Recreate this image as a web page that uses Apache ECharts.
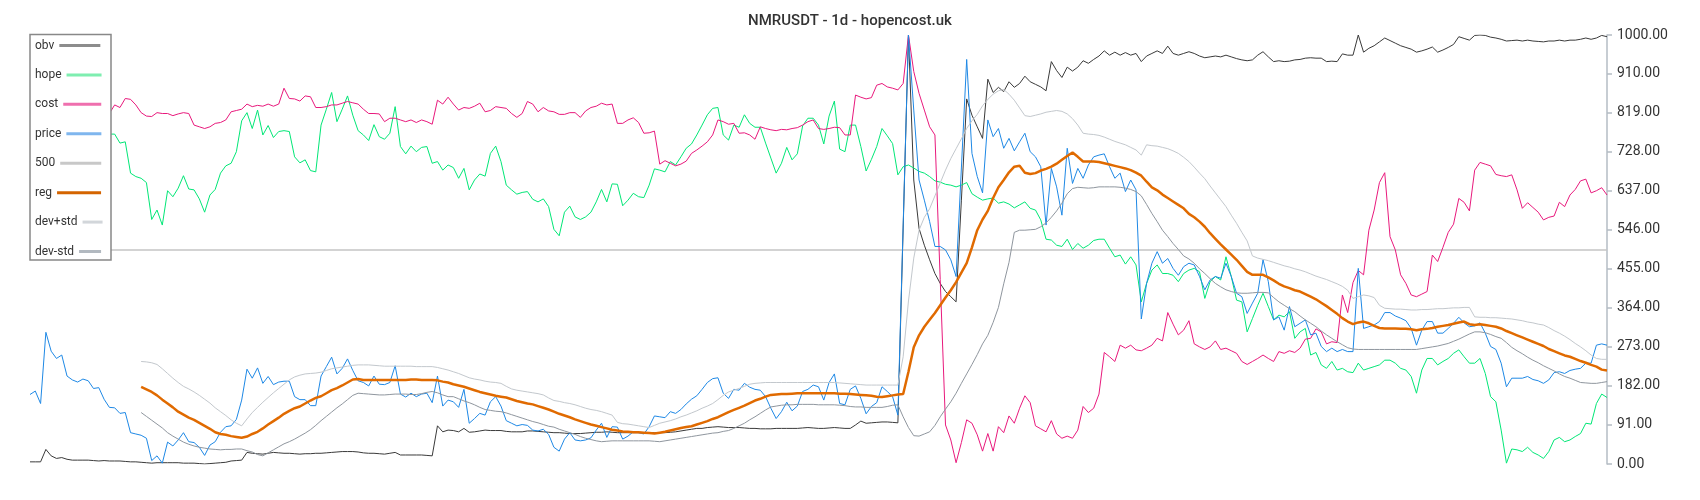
<!DOCTYPE html>
<html>
<head>
<meta charset="utf-8">
<script src="https://cdn.jsdelivr.net/npm/echarts@6/dist/echarts.min.js"></script>
<style>html,body{margin:0;padding:0;background:#fff}#chart{width:1700px;height:500px}</style>
</head>
<body>
<div id="chart"></div>
<script>
const title = 'NMRUSDT - 1d - hopencost.uk';
const seriesNames = ['obv', 'hope', 'cost', 'price', '500', 'reg', 'dev+std', 'dev-std'];
const yTicks = { min: 0, max: 1000, interval: 91 };
const level500 = 500;

const price = [162,170,141,307,263,246,254,205,196,191,198,194,176,178,151,132,131,118,120,73,70,67,60,8,19,2,51,42,56,73,52,50,39,20,44,52,74,87,89,104,149,221,200,224,188,204,185,191,193,193,157,150,150,136,136,205,227,249,210,223,245,218,194,190,182,205,186,185,190,229,163,156,165,157,163,165,143,205,135,149,
145,132,174,95,106,118,114,145,157,135,101,95,89,92,90,79,77,81,69,39,30,58,73,56,54,56,61,79,95,62,87,86,58,65,75,73,70,87,112,110,108,122,118,127,140,151,159,174,190,199,201,165,153,174,172,188,179,174,172,157,130,106,122,144,124,135,169,174,184,180,149,190,210,141,138,174,182,153,117,134,
143,180,169,157,114,557,1000,
825,662,615,565,507,507,499,476,437,690,943,
724,670,632,802,763,782,736,759,730,751,771,728,716,693,557,689,646,580,736,654,689,666,697,716,720,723,693,666,678,635,662,639,
338,421,468,495,468,479,456,440,460,468,464,437,406,429,437,433,468,437,398,390,351,375,398,476,425,336,343,312,367,320,328,
336,301,305,274,262,270,262,267,262,262,456,316,320,324,332,353,353,345,340,334,316,277,312,332,332,305,305,316,328,342,329,320,322,329,305,274,267,235,180,200,200,200,204,197,194,188,196,213,215,211,218,221,223,235,235,277,280,277];

const obv = [5,5,5,34,19,13,15,11,9,9,9,9,8,7,8,7,7,7,6,5,5,4,3,2,3,3,3,3,3,2,2,2,1,0,1,2,3,4,7,8,9,27,25,24,23,25,27,26,25,25,24,23,24,24,25,25,26,27,28,29,29,29,28,26,25,25,24,23,25,27,21,21,21,21,21,20,19,89,75,79,
78,75,83,74,75,77,79,78,78,78,76,75,75,75,77,77,76,75,74,73,73,72,71,71,71,72,73,74,74,75,74,73,73,73,73,73,73,73,73,73,73,74,75,77,79,81,83,83,85,86,87,86,85,85,85,84,83,83,82,82,82,83,83,83,83,83,84,85,84,83,83,84,85,84,83,83,91,100,95,96,
97,98,98,97,96,550,1000,
662,549,510,476,444,421,402,390,378,615,851,
813,786,759,897,866,878,868,891,878,887,904,891,885,879,870,938,917,901,925,916,925,940,934,943,951,963,953,960,953,959,953,957,
938,951,957,963,957,974,957,953,957,961,957,951,947,949,951,949,953,949,945,942,940,942,953,961,949,938,940,938,939,942,943,
946,947,946,946,938,939,938,956,953,953,1000,960,969,975,984,993,987,981,975,971,967,960,963,967,972,960,965,971,978,996,992,988,999,1000,999,995,993,990,986,987,988,986,988,986,985,984,986,986,988,986,988,988,990,993,990,993,999,996];

const hope = [800,805,785,890,860,850,855,820,815,810,815,812,800,800,780,
769,769,748,751,678,670,666,656,570,592,557,637,623,643,672,641,639,618,587,627,640,678,695,701,728,800,819,782,825,767,789,761,775,777,775,716,702,709,684,681,790,827,866,798,827,858,813,777,767,754,791,763,757,771,833,740,723,741,728,
738,740,701,705,685,697,691,666,689,639,662,676,671,724,741,705,650,639,629,633,635,617,611,618,600,547,532,587,601,576,570,576,587,611,640,611,653,652,602,615,631,623,621,650,688,685,681,705,697,716,736,746,767,790,814,829,831,767,755,790,785,814,794,785,785,748,713,678,701,738,709,723,788,806,806,790,746,811,846,734,728,790,790,740,683,710,
740,782,765,747,674,693,697,
690,682,678,670,660,657,652,650,646,650,656,630,622,615,618,620,608,611,606,597,604,611,596,592,569,524,522,510,507,524,500,514,503,510,521,524,524,503,483,487,466,483,464,
378,421,452,464,444,444,440,425,444,452,456,448,386,425,437,429,483,437,382,378,308,339,370,398,367,336,347,343,355,293,308,
316,254,260,231,223,239,219,223,215,213,235,219,223,227,231,242,242,235,223,219,204,165,219,246,246,231,239,246,258,266,250,235,235,246,211,157,145,79,2,35,33,29,39,27,21,13,29,56,62,52,56,64,71,95,93,141,163,155];

const cost = [820,825,830,835,840,838,835,832,830,828,825,822,820,818,818,
817,837,831,852,850,837,819,811,810,819,817,817,812,816,819,817,790,786,782,786,794,796,802,821,824,827,839,833,836,834,839,834,839,876,852,851,846,858,856,831,831,833,837,837,841,845,842,839,827,817,817,816,798,806,806,802,798,802,796,
802,798,792,848,839,855,839,825,831,829,834,841,821,824,833,831,829,817,808,817,845,839,821,831,823,821,815,815,819,819,808,823,831,834,841,837,839,794,794,802,807,796,771,772,776,699,707,701,695,699,706,724,732,741,751,767,802,798,792,794,771,772,767,757,786,782,779,777,780,779,782,784,790,798,802,782,780,782,785,784,767,767,860,855,851,854,
883,887,879,876,872,887,1000,
915,864,825,786,767,430,91,56,3,50,103,
95,68,30,71,30,87,73,112,95,130,159,143,89,82,75,101,70,60,65,60,79,134,120,130,163,260,250,239,277,270,277,266,
264,270,277,293,287,353,326,301,312,334,280,273,267,273,287,267,270,264,258,239,232,239,246,254,246,239,262,258,264,260,270,
291,293,315,308,280,285,283,394,353,423,451,441,545,592,656,679,530,499,441,421,394,390,396,402,487,472,505,540,559,619,610,590,685,703,699,695,675,672,670,674,639,596,609,598,587,569,575,578,610,600,627,640,660,664,632,637,644,627];

const reg = [null,null,null,null,null,null,null,null,null,null,null,null,null,null,null,null,null,null,null,null,null,
180,174,168,160,150,141,132,122,115,108,103,96,89,82,74,70,68,65,63,61,64,70,75,83,92,100,108,117,124,130,134,141,148,154,158,165,172,177,183,190,197,198,196,196,196,196,196,196,196,196,196,197,197,196,196,196,195,192,190,
186,183,180,176,172,168,165,162,159,157,155,151,147,144,141,139,135,131,127,122,117,113,109,104,100,96,92,89,86,83,80,78,76,75,74,74,73,72,71,73,75,78,81,84,86,88,92,96,100,105,109,115,121,126,131,136,142,148,152,157,161,162,163,163,164,165,165,165,165,165,165,165,165,164,164,163,162,161,160,159,
157,156,158,160,162,
163,215,272,300,320,336,352,370,388,405,424,446,468,505,545,570,590,620,645,662,680,693,695,679,676,678,684,688,693,700,709,718,726,716,705,705,705,704,701,698,695,692,689,685,679,672,658,645,638,628,620,612,604,596,583,575,565,553,538,525,512,500,488,476,462,448,441,441,441,435,428,420,414,410,405,402,396,390,384,376,368,359,350,340,332,326,330,332,328,322,317,316,316,316,315,315,314,312,314,315,317,320,322,324,327,330,332,326,324,326,324,322,320,316,310,305,300,295,290,285,280,275,268,263,258,253,250,245,240,236,231,227,220,218];

const devPlus = [null,null,null,null,null,null,null,null,null,null,null,null,null,null,null,null,null,null,null,null,null,
239,238,236,232,222,211,200,190,181,175,168,160,151,142,131,122,113,103,95,89,105,120,132,144,155,166,176,186,196,203,207,210,211,212,214,218,222,224,226,228,230,231,231,231,230,229,228,228,228,228,228,228,227,227,227,227,225,222,219,
215,211,206,201,198,196,193,191,190,188,181,175,172,170,168,166,164,161,154,148,146,143,141,138,134,130,127,125,122,118,114,97,94,93,91,89,87,85,90,95,98,101,105,110,114,119,124,130,135,141,150,160,168,172,176,181,186,188,189,190,190,190,190,190,190,190,190,190,190,190,190,190,190,189,188,187,186,185,184,184,
184,184,184,184,184,
250,380,480,545,575,595,625,655,685,712,735,758,782,800,815,835,850,862,870,873,862,848,830,812,
810,813,816,820,822,824,822,816,805,790,771,769,768,766,762,757,752,748,744,738,732,720,744,742,741,738,735,730,724,715,705,692,678,665,648,632,616,600,580,561,540,520,485,480,477,474,470,466,462,459,455,452,448,443,438,434,430,425,420,414,405,386,390,394,392,388,370,363,362,361,361,360,359,359,360,360,361,362,362,363,364,364,365,365,343,342,342,341,341,340,339,338,336,334,331,329,326,324,318,311,305,298,290,281,273,264,254,246,244,244];

const devMinus = [null,null,null,null,null,null,null,null,null,null,null,null,null,null,null,null,null,null,null,null,null,
120,111,102,93,84,73,65,58,51,46,42,39,37,35,34,33,34,34,35,35,31,28,22,19,26,33,40,47,52,58,65,72,80,90,101,111,121,131,140,150,160,165,164,163,162,161,161,162,163,163,163,162,162,164,167,169,166,161,157,
157,152,147,143,138,132,127,125,123,122,119,115,111,107,103,99,96,92,88,86,81,77,73,69,64,60,57,54,52,53,54,54,54,54,54,54,54,54,53,52,54,56,58,60,62,64,66,68,70,72,73,76,78,83,89,95,103,110,118,126,133,135,137,138,138,139,139,139,139,138,138,138,138,137,136,134,133,133,132,132,
132,132,134,137,138,110,85,66,65,70,75,90,110,128,145,165,188,210,232,255,280,300,330,365,420,470,540,545,545,546,547,553,562,575,590,608,630,642,645,644,643,644,646,646,646,646,645,643,640,635,625,605,584,565,545,530,514,500,485,478,468,455,444,432,421,413,406,402,399,398,398,399,400,400,399,388,378,370,362,355,345,336,328,320,310,301,293,285,278,271,268,267,267,267,267,267,267,267,267,267,267,267,267,269,271,273,275,278,281,286,291,297,303,308,308,306,302,297,293,283,272,264,257,249,242,236,229,223,217,210,204,200,195,190,189,188,188,190,192];

const categories = Array.from({ length: price.length }, (_, i) => String(i + 1));

const colors = {
  'obv': '#3a3a3a', 'hope': '#00e676', 'cost': '#e8197c', 'price': '#1e88e5',
  '500': '#c4c4c4', 'reg': '#e06a00', 'dev+std': '#c3c8cd', 'dev-std': '#8f969e'
};
const legendIconColors = {
  'obv': '#8c8c8c', 'hope': '#7eeeb0', 'cost': '#ef6fae', 'price': '#7fb6ee',
  '500': '#c8c8c8', 'reg': '#d46400', 'dev+std': '#d2d6da', 'dev-std': '#b2b9c0'
};
const widths = { 'obv': 1, 'hope': 1, 'cost': 1, 'price': 1, '500': 1.5, 'reg': 2.5, 'dev+std': 1, 'dev-std': 1 };
const dataByName = { 'obv': obv, 'hope': hope, 'cost': cost, 'price': price, 'reg': reg, 'dev+std': devPlus, 'dev-std': devMinus };

function lineSeries(name) {
  const s = {
    name, type: 'line', symbol: 'none', showSymbol: false, animation: false,
    data: dataByName[name] || [],
    itemStyle: { color: colors[name] },
    lineStyle: { color: colors[name], width: widths[name] },
    z: 2
  };
  if (name === '500') {
    s.markLine = {
      silent: true, symbol: ['none', 'none'], label: { show: false }, z: 2,
      lineStyle: { color: colors[name], width: widths[name], type: 'solid' },
      data: [{ yAxis: level500 }], animation: false
    };
  }
  return s;
}

const legendIconWidths = [41, 35, 38, 35, 41, 44, 20, 22];
const legends = seriesNames.map((n, i) => ({
  data: [n], orient: 'vertical', left: 30, top: 39.5 + i * 29.43,
  padding: [0, 0, 0, 5], itemGap: 0, align: 'right',
  icon: 'rect', itemWidth: legendIconWidths[i], itemHeight: 3,
  itemStyle: { color: legendIconColors[n] },
  selectedMode: false,
  textStyle: { fontFamily: 'Roboto', fontSize: 12, color: '#333' },
  z: 5
}));

const chart = echarts.init(document.getElementById('chart'), null, { renderer: 'canvas' });
chart.setOption({
  animation: false,
  backgroundColor: '#fff',
  textStyle: { fontFamily: 'Roboto' },
  title: {
    text: title, left: 'center', top: 9,
    textStyle: { fontFamily: 'Roboto', fontSize: 15, fontWeight: 500, color: '#333' }
  },
  legend: legends,
  graphic: [{
    type: 'rect', z: 3, silent: true,
    shape: { x: 30, y: 34.5, width: 81, height: 225.5 },
    style: { fill: '#fff', stroke: '#888', lineWidth: 1.5 }
  }],
  grid: { left: 30, right: 93, top: 35, bottom: 36 },
  xAxis: { type: 'category', data: categories, boundaryGap: false, show: false },
  yAxis: {
    type: 'value', position: 'right', min: yTicks.min, max: yTicks.max, interval: yTicks.interval,
    splitLine: { show: false },
    axisLine: { show: true, lineStyle: { color: '#b4bcc4', width: 1.5 } },
    axisTick: { show: true, length: 5, lineStyle: { color: '#b4bcc4', width: 1.5 } },
    axisLabel: { margin: 10, fontFamily: 'Roboto', fontSize: 14, color: '#333', formatter: v => v.toFixed(2) }
  },
  series: seriesNames.map(lineSeries)
});
</script>
</body>
</html>
